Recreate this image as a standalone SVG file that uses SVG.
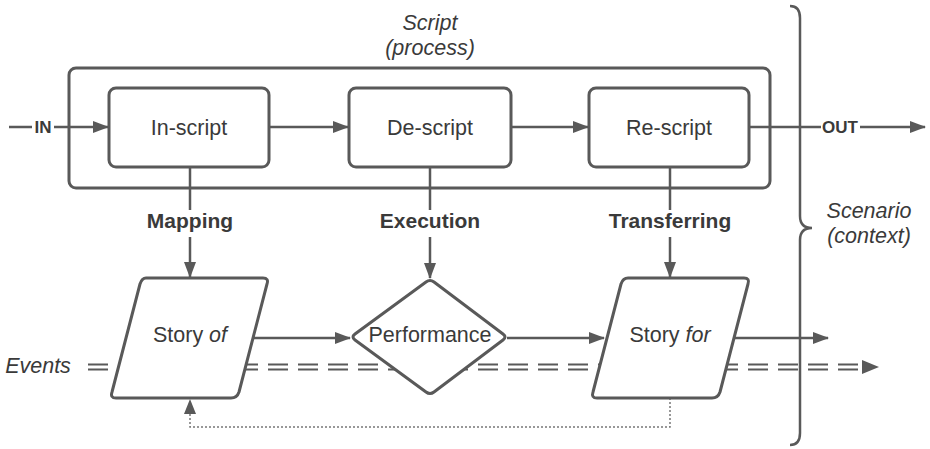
<svg xmlns="http://www.w3.org/2000/svg" width="930" height="449" viewBox="0 0 930 449">
<style>
.box{fill:#fff;stroke:#595959;stroke-width:3;stroke-linejoin:round}
.ln{fill:none;stroke:#595959;stroke-width:2.5}
.dot{fill:none;stroke:#777;stroke-width:1.5;stroke-dasharray:2 2}
.dash{fill:none;stroke:#595959;stroke-width:2.2;stroke-dasharray:20 10}
.t{font-family:"Liberation Sans",Arial,sans-serif;fill:#3a3a3a;text-anchor:middle}
.n{font-size:21.5px}
.b{font-size:21px;font-weight:bold}
.s{font-size:17px;font-weight:bold}
.i{font-size:21.5px;font-style:italic}
</style>
<defs>
<marker id="ah" viewBox="0 0 16 12" refX="15" refY="6" markerWidth="16" markerHeight="12" markerUnits="userSpaceOnUse" orient="auto">
<path d="M0,0 L16,6 L0,12 Z" fill="#595959"/>
</marker>
</defs>
<rect width="930" height="449" fill="#fff"/>

<g id="events-line">
<line class="dash" x1="88" y1="364.5" x2="868" y2="364.5"/>
<line class="dash" x1="88" y1="369.5" x2="868" y2="369.5"/>
<path d="M862,360 L879,367 L862,374 Z" fill="#595959"/>
<text class="t i" x="38" y="373">Events</text>
</g>

<g id="script-container">
<rect class="box" x="69" y="68" width="701" height="120" rx="7" fill="none" style="fill:none"/>
<text class="t i" x="430" y="30">Script</text>
<text class="t i" x="430" y="55">(process)</text>
</g>

<g id="scenario-brace">
<path class="ln" stroke-width="3" d="M790,6 Q800,6 800,18 L800,216 Q800,228 812,228 Q800,228 800,240 L800,433 Q800,445 790,445"/>
<text class="t i" x="869" y="218">Scenario</text>
<text class="t i" x="869" y="243">(context)</text>
</g>

<g id="connectors">
<line class="ln" x1="9" y1="127" x2="108" y2="127" marker-end="url(#ah)"/>
<line class="ln" x1="269" y1="127" x2="348" y2="127" marker-end="url(#ah)"/>
<line class="ln" x1="511" y1="127" x2="588" y2="127" marker-end="url(#ah)"/>
<line class="ln" x1="749" y1="127" x2="925" y2="127" marker-end="url(#ah)"/>
<rect x="32" y="117" width="22" height="20" fill="#fff"/>
<text class="t s" x="43" y="133">IN</text>
<rect x="821" y="117" width="39" height="20" fill="#fff"/>
<text class="t s" x="840" y="133">OUT</text>

<line class="ln" x1="190" y1="167" x2="190" y2="210"/>
<line class="ln" x1="190" y1="237" x2="190" y2="277" marker-end="url(#ah)"/>
<text class="t b" x="190" y="228">Mapping</text>
<line class="ln" x1="430" y1="167" x2="430" y2="210"/>
<line class="ln" x1="430" y1="237" x2="430" y2="278" marker-end="url(#ah)"/>
<text class="t b" x="430" y="228">Execution</text>
<line class="ln" x1="670" y1="167" x2="670" y2="210"/>
<line class="ln" x1="670" y1="237" x2="670" y2="277" marker-end="url(#ah)"/>
<text class="t b" x="670" y="228">Transferring</text>

<line class="ln" x1="253" y1="338" x2="350" y2="338" marker-end="url(#ah)"/>
<line class="ln" x1="507" y1="338" x2="604" y2="338" marker-end="url(#ah)"/>
<line class="ln" x1="734" y1="338" x2="828" y2="338" marker-end="url(#ah)"/>

<path class="dot" d="M670,398 L670,427 L190,427 L190,412"/>
<path d="M184,414 L190,399 L196,414 Z" fill="#595959"/>
</g>

<g id="in-script">
<rect class="box" x="109" y="88" width="160" height="79" rx="7"/>
<text class="t n" x="189" y="135">In-script</text>
</g>
<g id="de-script">
<rect class="box" x="349" y="88" width="162" height="79" rx="7"/>
<text class="t n" x="430" y="135">De-script</text>
</g>
<g id="re-script">
<rect class="box" x="589" y="88" width="160" height="79" rx="7"/>
<text class="t n" x="669" y="135">Re-script</text>
</g>

<g id="story-of">
<path class="box" d="M146,278 L263,278 Q269,278 267,284 L239,392 Q237,398 231,398 L116,398 Q110,398 112,392 L140,284 Q142,278 146,278 Z"/>
<text class="t n" x="190" y="342">Story <tspan font-style="italic">of</tspan></text>
</g>
<g id="performance">
<path class="box" d="M426,282 Q430,279 434,282 L503,334 Q507,337 503,340 L434,392 Q430,395 426,392 L355,340 Q351,337 355,334 Z"/>
<text class="t n" x="430" y="342">Performance</text>
</g>
<g id="story-for">
<path class="box" d="M628,278 L744,278 Q750,278 748,284 L720,392 Q718,398 712,398 L597,398 Q591,398 593,392 L621,284 Q623,278 628,278 Z"/>
<text class="t n" x="670" y="342">Story <tspan font-style="italic">for</tspan></text>
</g>
</svg>
